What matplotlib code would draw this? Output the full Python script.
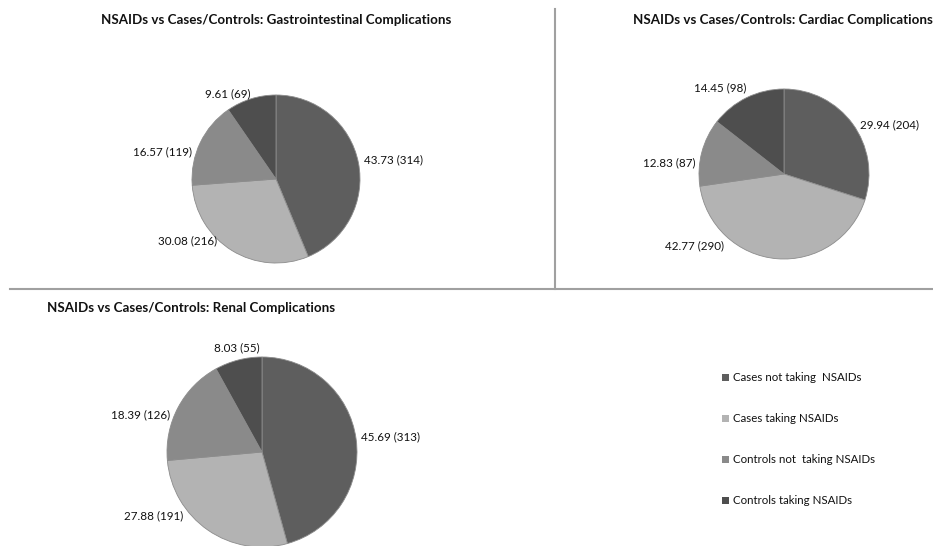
import matplotlib.pyplot as plt
from matplotlib.lines import Line2D
from matplotlib.patches import Patch

plt.rcParams['font.family'] = ['Lato', 'DejaVu Sans']

groups = ['Cases not taking  NSAIDs', 'Cases taking NSAIDs',
          'Controls not  taking NSAIDs', 'Controls taking NSAIDs']
colors = ['#5e5e5e', '#b3b3b3', '#8a8a8a', '#4e4e4e']

gi_pct = [43.73, 30.08, 16.57, 9.61]
gi_n = [314, 216, 119, 69]
cardiac_pct = [29.94, 42.77, 12.83, 14.45]
cardiac_n = [204, 290, 87, 98]
renal_pct = [45.69, 27.88, 18.39, 8.03]
renal_n = [313, 191, 126, 55]

# label anchors in pie-radius units (x, y, ha)
gi_label_pos = [(1.05, 0.23, 'left'), (-0.70, -0.73, 'right'),
                (-1.0, 0.32, 'right'), (-0.57, 1.02, 'center')]
cardiac_label_pos = [(0.89, 0.58, 'left'), (-0.71, -0.85, 'right'),
                     (-1.04, 0.13, 'right'), (-0.75, 1.02, 'center')]
renal_label_pos = [(1.04, 0.16, 'left'), (-0.83, -0.67, 'right'),
                   (-0.97, 0.39, 'right'), (-0.27, 1.1, 'center')]

W, H = 933, 546
fig = plt.figure(figsize=(W / 100, H / 100), dpi=100)


def pie_axes(cx, cy, r):
    # square axes spanning [-2, 2] so one data unit is r pixels
    ax = fig.add_axes([(cx - 2 * r) / W, 1 - (cy + 2 * r) / H, 4 * r / W, 4 * r / H])
    ax.axis('off')
    return ax


def draw_pie(ax, pct, n, label_pos):
    labels = [f'{p:.2f} ({c})' for p, c in zip(pct, n)]
    wedges, texts = ax.pie(pct, colors=colors, startangle=90, counterclock=False,
                           labels=labels,
                           wedgeprops=dict(edgecolor='#8c8c8c', linewidth=0.6),
                           textprops=dict(fontsize=8.4, color='#111111'))
    for t, (x, y, ha) in zip(texts, label_pos):
        t.set_position((x, y))
        t.set_ha(ha)
        t.set_va('center')
    ax.set_xlim(-2, 2)
    ax.set_ylim(-2, 2)


draw_pie(pie_axes(276, 179, 84), gi_pct, gi_n, gi_label_pos)
draw_pie(pie_axes(784, 174, 85), cardiac_pct, cardiac_n, cardiac_label_pos)
draw_pie(pie_axes(262, 452, 95), renal_pct, renal_n, renal_label_pos)

title_kw = dict(fontsize=9.6, fontweight='bold', color='#111111', va='center')
fig.text(276 / W, 1 - 20 / H, 'NSAIDs vs Cases/Controls: Gastrointestinal Complications',
         ha='center', **title_kw)
fig.text(633 / W, 1 - 20 / H, 'NSAIDs vs Cases/Controls: Cardiac Complications',
         ha='left', **title_kw)
fig.text(47 / W, 1 - 308 / H, 'NSAIDs vs Cases/Controls: Renal Complications',
         ha='left', **title_kw)

# panel dividers
fig.add_artist(Line2D([555 / W, 555 / W], [1 - 9 / H, 1 - 289 / H],
                      color='#a0a0a0', linewidth=1.5))
fig.add_artist(Line2D([10 / W, 1], [1 - 289 / H, 1 - 289 / H],
                      color='#a0a0a0', linewidth=1.5))

handles = [Patch(facecolor=c, edgecolor='none') for c in colors]
leg = fig.legend(handles, groups, loc='upper left', bbox_to_anchor=(712 / W, 1 - 362 / H),
                 frameon=False, fontsize=8.3, handlelength=0.55, handleheight=0.55,
                 handletextpad=0.4, labelspacing=2.6)
for t in leg.get_texts():
    t.set_color('#111111')

fig.savefig('out.png', dpi=100, facecolor='white')
